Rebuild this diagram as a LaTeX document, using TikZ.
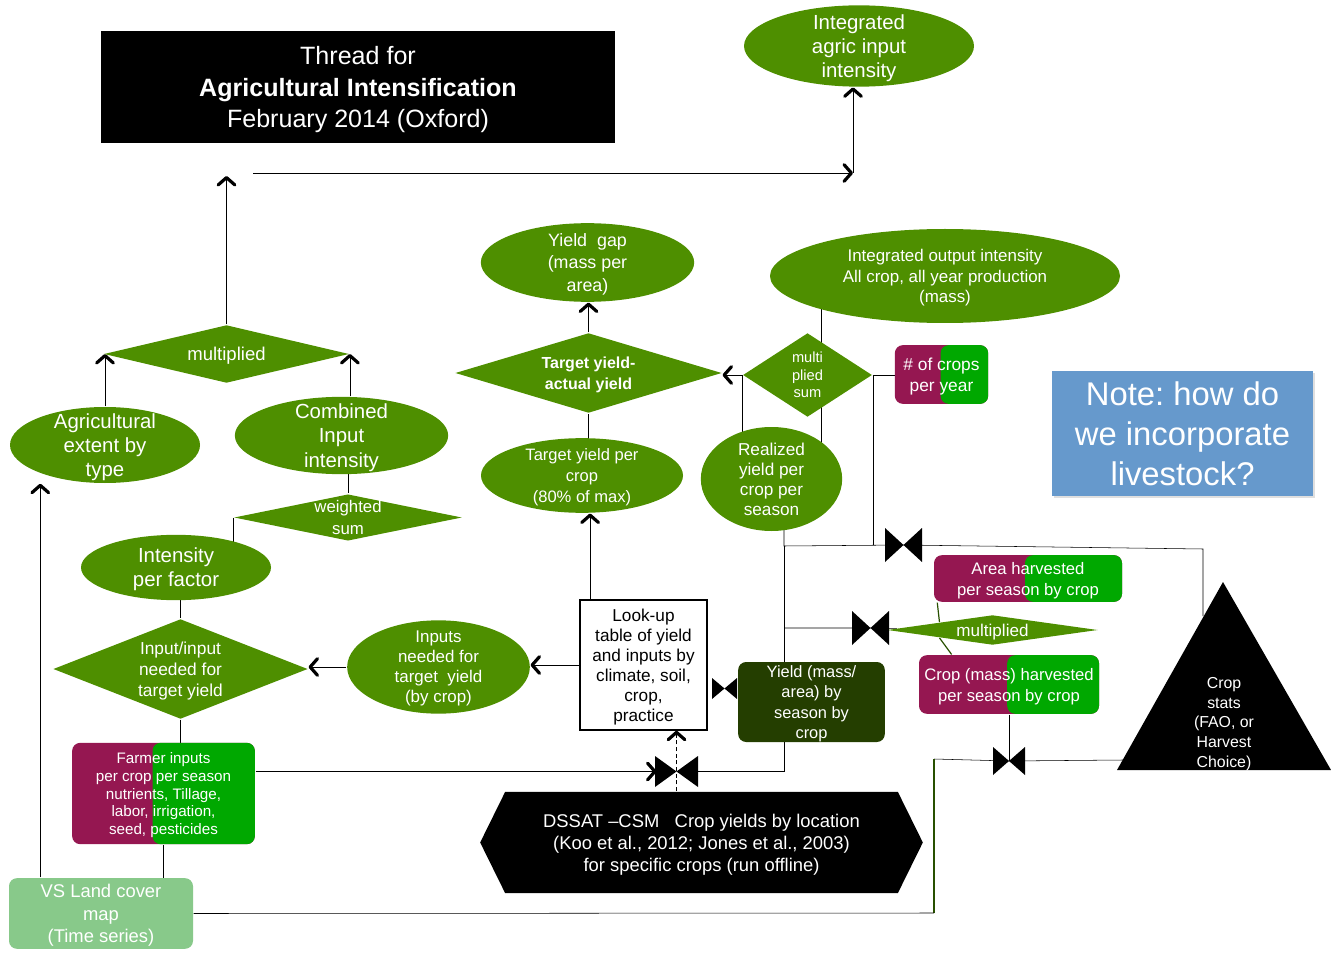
\documentclass[tikz,border=0pt]{standalone}
\usepackage{fontspec}
\setmainfont{Liberation Sans}
\usetikzlibrary{shapes.geometric,arrows.meta,calc,shadows,backgrounds}

\definecolor{leaf}{RGB}{78,143,0}
\definecolor{berry}{RGB}{149,23,81}
\definecolor{sprout}{RGB}{0,168,0}
\definecolor{moss}{RGB}{36,62,0}
\definecolor{mint}{RGB}{136,201,138}
\definecolor{sky}{RGB}{102,153,204}
\definecolor{twiggreen}{RGB}{40,80,0}

\newcommand{\fsz}[2]{\fontsize{#1}{#2}\selectfont}
\frenchspacing

\tikzset{
  flow/.style={-{Straight Barb[length=5.5pt,width=12.5pt,line width=2.4pt 0,line cap=round,line join=round]}},
  leafellipse/.style={ellipse, fill=leaf, text=white, align=center, inner sep=-30pt, text depth=0pt},
  leafdiamond/.style={diamond, fill=leaf, text=white, align=center, inner sep=-30pt, text depth=0pt},
  roundbox/.style={rectangle, rounded corners=6pt, text=white, align=center, inner sep=0pt, text depth=0pt},
  splitbox/.style={roundbox, fill=berry, path picture={\fill[sprout, rounded corners=6pt]
      ($(path picture bounding box.south west)!#1!(path picture bounding box.south east)$)
      rectangle ([xshift=8pt]path picture bounding box.north east);}},
  twig/.style={draw=twiggreen, line width=0.9pt},
  valve/.pic={\fill (-1,-1) -- (1,1) -- (1,-1) -- (-1,1) -- cycle;},
}

\begin{document}
\begin{tikzpicture}[x=0.75pt,y=-0.75pt,line width=1.1pt]
\useasboundingbox (0,0) rectangle (1331,955);

\coordinate (rise) at (226.5,176);
\coordinate (run) at (253,173);
\coordinate (bend) at (853,173);
\coordinate (drop) at (784,546);
\coordinate (foot) at (784,771.5);
\coordinate (corner) at (1203,549);
\coordinate (statsIn) at (1203,616);
\coordinate (statsIn2) at (1123,760);
\coordinate (sink) at (934,759);
\coordinate (sinkfoot) at (934,913);
\coordinate (statsTop) at (1223,582);
\coordinate (statsL) at (1117,770);
\coordinate (statsR) at (1331,770);
\coordinate (v1) at (903.5,545);
\coordinate (v2) at (870.5,628);
\coordinate (v3) at (724.5,688.5);
\coordinate (v4) at (676.5,771.5);
\coordinate (v5) at (1009,761);

\node[fill=black, text=white, align=center, minimum width=385.5pt, minimum height=84pt, inner sep=0pt,
  text depth=0pt, font=\fsz{18.8}{23.6}] (title) at (358,87)
  {Thread for\\\textbf{Agricultural Intensification}\\February 2014 (Oxford)};
\node[leafellipse, minimum width=172.5pt, minimum height=61pt, font=\fsz{15.3}{18}] (integ) at (859,46)
  {Integrated\\agric input\\intensity};

\node[leafdiamond, minimum width=184pt, minimum height=43.5pt, font=\fsz{13.9}{16}] (mulL) at (226.5,354) {multiplied};
\node[leafellipse, minimum width=142.5pt, minimum height=57pt, font=\fsz{15.3}{18}] (extent) at (105,445)
  {Agricultural\\extent by\\type};
\node[leafellipse, minimum width=160pt, minimum height=58pt, font=\fsz{15.3}{18.4}] (combined) at (341.5,435.5)
  {Combined\\Input\\intensity};
\node[leafdiamond, minimum width=171pt, minimum height=35pt, font=\fsz{12.6}{16.5}] (wsum) at (348,517.5)
  {weighted\\sum};
\node[leafellipse, minimum width=142.5pt, minimum height=49pt, font=\fsz{15.3}{18}] (factor) at (176,567.5)
  {Intensity\\per factor};
\node[leafdiamond, minimum width=191pt, minimum height=75pt, font=\fsz{13}{15.75}] (needdia) at (180.5,669)
  {Input/input\\needed for\\target yield};
\node[leafellipse, minimum width=137pt, minimum height=70pt, font=\fsz{12.7}{15}] (inputs) at (438.5,667)
  {Inputs\\needed for\\target\ \ yield\\(by crop)};
\node[draw, fill=white, text=black, align=center, minimum width=95pt, minimum height=97.5pt, inner sep=0pt,
  text depth=0pt, font=\fsz{12.9}{15}, drop shadow={shadow xshift=1pt,shadow yshift=-1pt,opacity=0.3}] (lookup) at (643.5,665)
  {Look-up\\table of yield\\and inputs by\\climate, soil,\\crop,\\practice};

\node[leafellipse, minimum width=151.5pt, minimum height=56pt, font=\fsz{12.4}{15.4}] (target) at (582,475.5)
  {Target yield per\\crop\\(80\% of max)};
\node[leafdiamond, minimum width=200pt, minimum height=60pt, font=\fsz{12}{15.75}\bfseries] (gapdia) at (588.5,373)
  {Target yield-\\actual yield};
\node[leafellipse, minimum width=160pt, minimum height=59pt, font=\fsz{13.4}{17}] (gap) at (587.5,262.5)
  {Yield\ \ gap\\(mass per\\area)};
\node[leafdiamond, minimum width=97pt, minimum height=63pt, font=\fsz{11}{13}] (mulsum) at (807.5,375)
  {multi\\plied\\sum};
\node[splitbox=0.49, minimum width=70pt, minimum height=44pt, font=\fsz{13}{15.75}] (ncrops) at (941.5,374.5)
  {\# of crops\\per year};
\node[leafellipse, minimum width=106pt, minimum height=78pt, font=\fsz{12.9}{15}] (realized) at (771.5,479)
  {Realized\\yield per\\crop per\\season};
\node[leafellipse, minimum width=262.5pt, minimum height=70.5pt, font=\fsz{12.7}{15.4}] (output) at (945,276)
  {Integrated output intensity\\All crop, all year production\\(mass)};

\node[splitbox=0.484, minimum width=141pt, minimum height=35pt, font=\fsz{12.5}{15.75}] (area) at (1028,578.5)
  {Area harvested\\per season by crop};
\node[leafdiamond, minimum width=158pt, minimum height=22.5pt, font=\fsz{12.8}{15}] (mulR) at (992.5,630) {multiplied};
\node[splitbox=0.49, minimum width=135pt, minimum height=44pt, font=\fsz{12.5}{15.75}] (cropmass) at (1009,684.5)
  {Crop (mass) harvested\\per season by crop};
\node[roundbox, fill=moss, minimum width=110pt, minimum height=60pt, font=\fsz{12.3}{15.4}] (yieldbox) at (811.5,702)
  {Yield (mass/\\area) by\\season by\\crop};

\node[splitbox=0.44, minimum width=137pt, minimum height=76pt, font=\fsz{11.4}{13.3}] (farmer) at (163.5,793.5)
  {Farmer inputs\\per crop per season\\nutrients, Tillage,\\labor, irrigation,\\seed, pesticides};
\node[roundbox, fill=mint, minimum width=138pt, minimum height=53pt, font=\fsz{13.8}{16.9}] (vsland) at (101,913.5)
  {VS Land cover\\map\\(Time series)};
\node[fill=white, text=white, align=center, minimum width=332pt, minimum height=76pt, inner sep=0pt,
  text depth=0pt, font=\fsz{13.8}{16.5},
  path picture={\fill[black] (path picture bounding box.west)
    -- ([xshift=18.75pt]path picture bounding box.north west)
    -- ([xshift=-18.75pt]path picture bounding box.north east)
    -- (path picture bounding box.east)
    -- ([xshift=-18.75pt]path picture bounding box.south east)
    -- ([xshift=18.75pt]path picture bounding box.south west) -- cycle;}] (dssat) at (701.5,842.5)
  {DSSAT –CSM\ \ \ Crop yields by location\\(Koo et al., 2012; Jones et al., 2003)\\for specific crops (run offline)};

\fill (statsTop) -- (statsR) -- (statsL) -- cycle;
\node[text=white, align=center, inner sep=0pt, font=\fsz{11.9}{14.9}] (stats) at (1224,724)
  {Crop\\stats\\(FAO, or\\Harvest\\Choice)};

\node[fill=sky, text=white, align=center, minimum width=196pt, minimum height=94pt, inner sep=0pt,
  text depth=0pt, font=\fsz{24.6}{30}, drop shadow={shadow xshift=1.5pt,shadow yshift=-1.5pt,opacity=0.25}] (note) at (1182.5,433.5)
  {Note: how do\\we incorporate\\livestock?};

\begin{pgfonlayer}{background}
  \draw[flow] (mulL.north) -- (rise);
  \draw[flow] (run) -- (bend);
  \draw[flow] (bend) -- (bend |- integ.south);
  \draw[flow] (extent.north) -- (extent.north |- mulL.west);
  \draw[flow] (mulL.east |- combined.north) -- (mulL.east);
  \draw (wsum.north |- combined.center) -- (wsum.north);
  \draw (wsum.west) -- (wsum.west |- factor.center);
  \draw (needdia.north |- factor.center) -- (needdia.north);
  \draw (needdia.south) -- (needdia.south |- farmer.center);
  \draw[flow] (inputs.west) -- (inputs.west -| needdia.east);
  \draw[flow] (lookup.west) -- (lookup.west -| inputs.east);
  \draw[flow] ([xshift=8pt]lookup.north west) -- ([xshift=8pt]lookup.north west |- target.south);
  \draw (gapdia.south |- target.center) -- (gapdia.south);
  \draw[flow] (gapdia.north) -- (gapdia.north |- gap.south);
  \draw[flow] (mulsum.west) -- (mulsum.west -| gapdia.east);
  \draw (mulsum.west) -- (mulsum.west |- realized.center);
  \draw ([xshift=37pt]realized.center) -- ([xshift=37pt]realized.center |- output.center);
  \draw (mulsum.east) -- (mulsum.east -| ncrops.center);
  \draw (mulsum.east) -- (mulsum.east |- v1);
  \draw (drop |- realized.center) -- (drop) -- (v1) -- (corner) -- (statsIn);
  \draw (drop) -- (foot) -- (v4);
  \draw (drop |- v2) -- (v2) -- (mulR);
  \draw[twig] ([xshift=3pt]area.south west) -- (mulR.north west);
  \draw[twig] (mulR.south west) -- ([xshift=25pt]cropmass.north west);
  \draw (cropmass) -- (v5);
  \draw (sink) -- (v5) -- (statsIn2);
  \draw[twig] (sink) -- (sinkfoot);
  \draw (vsland.east) -- (sinkfoot);
  \draw[flow] (farmer.east |- v4) -- ([xshift=-15pt]v4);
  \draw[dash pattern=on 3pt off 2pt,flow] (v4 |- dssat.north) -- (v4 |- lookup.south);
  \draw[flow] ([xshift=24pt]vsland.north west) -- ([xshift=24pt]vsland.north west |- extent.south);
  \draw (farmer.south) -- (farmer.south |- vsland.center);
\end{pgfonlayer}

\pic[xscale=18.5,yscale=17] at (v1) {valve};
\pic[xscale=18.5,yscale=17] at (v2) {valve};
\pic[xscale=12.5,yscale=10.5] at (v3) {valve};
\pic[xscale=21.5,yscale=15.5] at (v4) {valve};
\pic[xscale=16,yscale=14] at (v5) {valve};
\end{tikzpicture}
\end{document}
